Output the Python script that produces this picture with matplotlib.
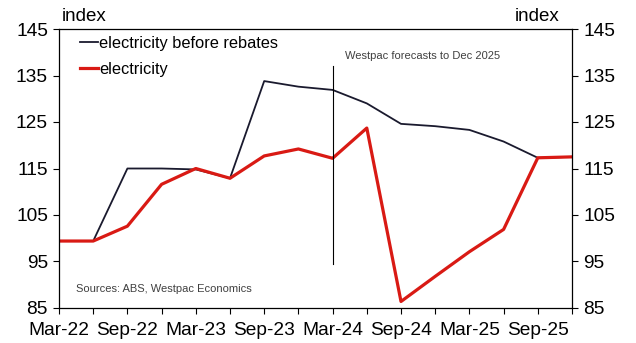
import numpy as np
import matplotlib.pyplot as plt

plt.rcParams['font.family'] = ['Liberation Sans', 'DejaVu Sans']

# quarterly, Mar-22 .. Dec-25
quarters = ['Mar-22', 'Jun-22', 'Sep-22', 'Dec-22', 'Mar-23', 'Jun-23', 'Sep-23', 'Dec-23',
            'Mar-24', 'Jun-24', 'Sep-24', 'Dec-24', 'Mar-25', 'Jun-25', 'Sep-25', 'Dec-25']
before_rebates = [99.4, 99.4, 115.0, 115.0, 114.8, 112.9, 133.8, 132.6,
                  131.9, 129.0, 124.6, 124.1, 123.3, 120.8, 117.3, 117.5]
electricity = [99.4, 99.4, 102.6, 111.6, 115.0, 112.9, 117.7, 119.2,
               117.2, 123.7, 86.4, 91.8, 97.1, 101.9, 117.3, 117.5]
forecast_start = 'Mar-24'

x = np.arange(len(quarters))

fig = plt.figure(figsize=(6.36, 3.43), dpi=100)
ax = fig.add_axes([59 / 636, 1 - 308 / 343, 513 / 636, 279 / 343])

ax.plot(x, before_rebates, color='#1a1a2e', lw=1.3, label='electricity before rebates')
ax.plot(x, electricity, color='#d91a14', lw=2.3, label='electricity')

fx = quarters.index(forecast_start)
ax.plot([fx, fx], [94.5, 137.0], color='black', lw=0.8)
ax.text(fx + 0.35, 139.2, 'Westpac forecasts to Dec 2025', fontsize=8, color='#404040', va='center')

ax.set_xlim(0, len(quarters) - 1)
ax.set_ylim(85, 145)
ax.set_yticks(np.arange(85, 146, 10))
ax.set_xticks(x)
ax.set_xticklabels([q if i % 2 == 0 else '' for i, q in enumerate(quarters)])
ax.tick_params(axis='x', direction='out', length=4, labelsize=13.8, pad=6)
ax.tick_params(axis='y', direction='out', length=4, labelsize=13.8, right=True, labelright=True, pad=4)
for s in ax.spines.values():
    s.set_linewidth(0.9)

ax.text(0.005, 1.015, 'index', transform=ax.transAxes, fontsize=13.5, ha='left', va='bottom')
ax.text(0.975, 1.015, 'index', transform=ax.transAxes, fontsize=13.5, ha='right', va='bottom')
ax.text(0.033, 0.05, 'Sources: ABS, Westpac Economics', transform=ax.transAxes,
        fontsize=8, color='#404040', va='bottom')

ax.legend(loc='upper left', frameon=False, fontsize=11.8, handlelength=1.1,
          handletextpad=0.05, borderaxespad=0.2, labelspacing=0.68,
          bbox_to_anchor=(0.022, 1.01))

fig.savefig('out.png', dpi=100)
